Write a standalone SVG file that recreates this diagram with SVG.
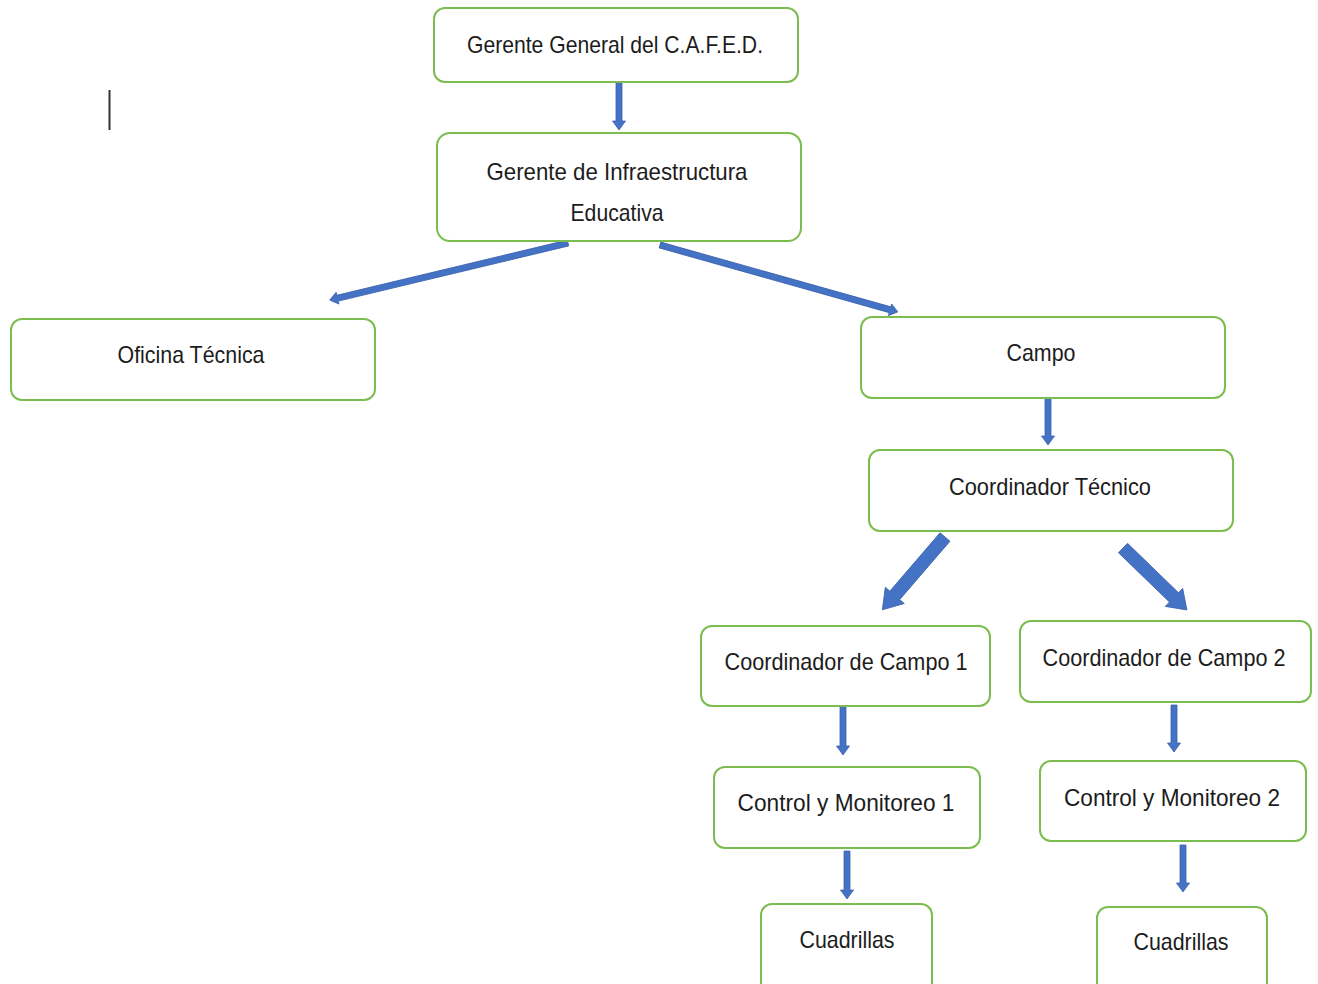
<svg xmlns="http://www.w3.org/2000/svg" width="1318" height="984" viewBox="0 0 1318 984">
  <style>
    .box { fill: #ffffff; stroke: #7cbd4f; stroke-width: 2; }
    .lbl { font-family: "Liberation Sans", Arial, sans-serif; font-size: 24px; fill: #1c1c1c; text-anchor: middle; }
    .arr { fill: #4472c4; stroke: #3a62ad; stroke-width: 0.8; }
  </style>
  <rect width="1318" height="984" fill="#ffffff"/>

  <!-- text cursor mark -->
  <line x1="109.5" y1="90" x2="109.5" y2="130" stroke="#333333" stroke-width="2"/>

  <g id="connectors">
    <!-- vertical arrows -->
    <path class="arr" d="M616,83 L622,83 L622,121 L625.5,121 L619,130 L612.5,121 L616,121 Z"/>
    <path class="arr" d="M1045,398 L1051,398 L1051,436 L1054.5,436 L1048,445 L1041.5,436 L1045,436 Z"/>
    <path class="arr" d="M840,707 L846,707 L846,746 L849.5,746 L843,755 L836.5,746 L840,746 Z"/>
    <path class="arr" d="M1171,705 L1177,705 L1177,743 L1180.5,743 L1174,752 L1167.5,743 L1171,743 Z"/>
    <path class="arr" d="M844,851 L850,851 L850,890 L853.5,890 L847,899 L840.5,890 L844,890 Z"/>
    <path class="arr" d="M1180,845 L1186,845 L1186,883 L1189.5,883 L1183,892 L1176.5,883 L1180,883 Z"/>
    <!-- diagonal arrows from Gerente de Infraestructura -->
    <path class="arr" transform="translate(568,243) rotate(166.53)" d="M0,-3 L237,-3 L237,-6 L245,0 L237,6 L237,3 L0,3 Z"/>
    <path class="arr" transform="translate(660,245) rotate(15.72)" d="M0,-3 L239,-3 L239,-6 L247,0 L239,6 L239,3 L0,3 Z"/>
    <!-- diagonal arrows from Coordinador Técnico -->
    <path class="arr" transform="translate(945,537) rotate(130.7)" d="M0,-6.5 L77,-6.5 L77,-12.5 L96,0 L77,12.5 L77,6.5 L0,6.5 Z"/>
    <path class="arr" transform="translate(1123,548) rotate(44.1)" d="M0,-6.5 L71,-6.5 L71,-12.5 L89,0 L71,12.5 L71,6.5 L0,6.5 Z"/>
  </g>

  <g id="gerente-general">
    <rect class="box" x="434" y="8" width="364" height="74" rx="11"/>
    <text class="lbl" x="615" y="53" textLength="296" lengthAdjust="spacingAndGlyphs">Gerente General del C.A.F.E.D.</text>
  </g>
  <g id="gerente-infraestructura">
    <rect class="box" x="437" y="133" width="364" height="108" rx="13"/>
    <text class="lbl" x="617" y="180" textLength="261" lengthAdjust="spacingAndGlyphs">Gerente de Infraestructura</text>
    <text class="lbl" x="617" y="221" textLength="93" lengthAdjust="spacingAndGlyphs">Educativa</text>
  </g>
  <g id="oficina-tecnica">
    <rect class="box" x="11" y="319" width="364" height="81" rx="11"/>
    <text class="lbl" x="191" y="363" textLength="147" lengthAdjust="spacingAndGlyphs">Oficina Técnica</text>
  </g>
  <g id="campo">
    <rect class="box" x="861" y="317" width="364" height="81" rx="11"/>
    <text class="lbl" x="1041" y="361" textLength="69" lengthAdjust="spacingAndGlyphs">Campo</text>
  </g>
  <g id="coordinador-tecnico">
    <rect class="box" x="869" y="450" width="364" height="81" rx="11"/>
    <text class="lbl" x="1050" y="495" textLength="202" lengthAdjust="spacingAndGlyphs">Coordinador Técnico</text>
  </g>
  <g id="coordinador-campo-1">
    <rect class="box" x="701" y="626" width="289" height="80" rx="11"/>
    <text class="lbl" x="846" y="670" textLength="243" lengthAdjust="spacingAndGlyphs">Coordinador de Campo 1</text>
  </g>
  <g id="coordinador-campo-2">
    <rect class="box" x="1020" y="621" width="291" height="81" rx="11"/>
    <text class="lbl" x="1164" y="666" textLength="243" lengthAdjust="spacingAndGlyphs">Coordinador de Campo 2</text>
  </g>
  <g id="control-monitoreo-1">
    <rect class="box" x="714" y="767" width="266" height="81" rx="11"/>
    <text class="lbl" x="846" y="811" textLength="217" lengthAdjust="spacingAndGlyphs">Control y Monitoreo 1</text>
  </g>
  <g id="control-monitoreo-2">
    <rect class="box" x="1040" y="761" width="266" height="80" rx="11"/>
    <text class="lbl" x="1172" y="806" textLength="216" lengthAdjust="spacingAndGlyphs">Control y Monitoreo 2</text>
  </g>
  <g id="cuadrillas-1">
    <rect class="box" x="761" y="904" width="171" height="100" rx="11"/>
    <text class="lbl" x="847" y="948" textLength="95" lengthAdjust="spacingAndGlyphs">Cuadrillas</text>
  </g>
  <g id="cuadrillas-2">
    <rect class="box" x="1097" y="907" width="170" height="100" rx="11"/>
    <text class="lbl" x="1181" y="950" textLength="95" lengthAdjust="spacingAndGlyphs">Cuadrillas</text>
  </g>
</svg>
